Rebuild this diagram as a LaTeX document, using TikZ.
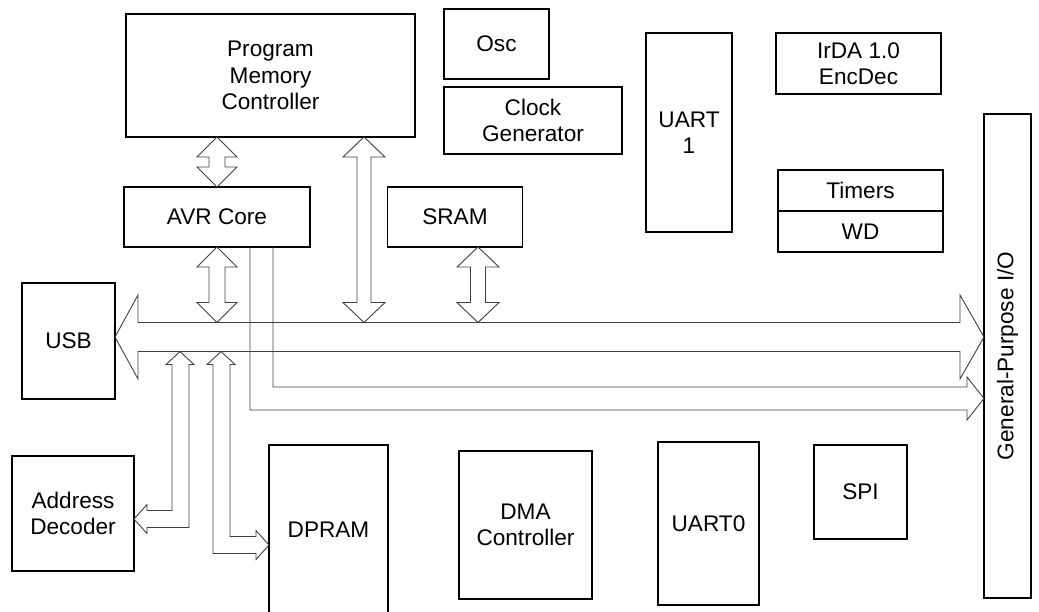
\documentclass[tikz,border=0pt]{standalone}
\usepackage{fontspec}
\setmainfont{Liberation Sans}
\usetikzlibrary{calc}
\newcommand{\dblvarrow}[4]{\draw[bus] #1 -- ($#1+(#4,20)$) -- ($#1+(#3,20)$) -- ($#2+(#3,-20)$) -- ($#2+(#4,-20)$) -- #2 -- ($#2+(-#4,-20)$) -- ($#2+(-#3,-20)$) -- ($#1+(-#3,20)$) -- ($#1+(-#4,20)$) -- cycle;}
\begin{document}
\begin{tikzpicture}[x=1pt,y=-1pt,
block/.style={shape=rectangle,draw=black,line width=1.6pt,align=center,inner sep=0pt,outer sep=0pt,font=\fontsize{22.6}{26.5}\selectfont},
bus/.style={draw=black!75,line width=0.9pt,line join=miter}]
\useasboundingbox (0,0) rectangle (1039,611);
\node[block,minimum width=289,minimum height=123] (pmc) at (270.5,75.5) {Program\\Memory\\Controller};
\node[block,minimum width=105,minimum height=70] (osc) at (496.5,44) {Osc};
\node[block,minimum width=178,minimum height=67] (clk) at (533,120.5) {Clock\\Generator};
\node[block,minimum width=86,minimum height=199] (uart1) at (689,132.5) {UART\\1};
\node[block,minimum width=165,minimum height=61] (irda) at (858.5,63.5) {IrDA 1.0\\EncDec};
\node[block,minimum width=165,minimum height=41] (timers) at (860.5,190.5) {Timers};
\node[block,minimum width=165,minimum height=41] (wd) at (860.5,231.5) {WD};
\node[block,minimum width=47,minimum height=484] (gpio) at (1007.5,356) {\rotatebox{90}{General-Purpose I/O}};
\node[block,minimum width=186,minimum height=60] (core) at (217,217) {AVR Core};
\node[block,minimum width=135,minimum height=60] (sram) at (455,217) {SRAM};
\node[block,minimum width=93,minimum height=116] (usb) at (68.5,341) {USB};
\node[block,minimum width=122,minimum height=115] (addr) at (73,513.5) {Address\\Decoder};
\node[block,minimum width=119,minimum height=170] (dpram) at (328.5,530) {DPRAM};
\node[block,minimum width=133,minimum height=148] (dma) at (525.5,525) {DMA\\Controller};
\node[block,minimum width=101,minimum height=163] (uart0) at (708.5,523.5) {UART0};
\node[block,minimum width=93,minimum height=94] (spi) at (860.5,492) {SPI};

\coordinate (busy) at (0,337);
\coordinate (busl) at (usb.east |- busy);
\coordinate (busr) at (gpio.west |- busy);
\coordinate (pb) at (364,322.5);
\coordinate (sb) at (478,322.5);
\coordinate (ta) at (180,351.5);
\coordinate (tb) at (221,351.5);
\coordinate (cy) at (0,398.5);

\draw[bus] (busl) -- ++(23,-42) -- ++(0,27.5) -- ($(busr)+(-24,-14.5)$) -- ++(0,-27.5) -- (busr) -- ++(-24,42) -- ++(0,-27.5) -- ($(busl)+(23,14.5)$) -- ++(0,27.5) -- cycle;
\dblvarrow{(pmc.south -| core.north)}{(core.north)}{8}{20}
\dblvarrow{(core.south)}{(core.south |- pb)}{8}{20}
\dblvarrow{(pmc.south -| pb)}{(pb)}{7}{21}
\dblvarrow{(sram.south -| sb)}{(sb)}{7.5}{21}
\draw[bus] ($(core.south)+(33,0)$) |- ($(gpio.west |- cy)+(-17,11.5)$) -- ++(0,10) -- (gpio.west |- cy) -- ++(-17,-21.5) -- ++(0,10) -| ($(core.south)+(56,0)$);
\draw[bus] (ta) -- ++(14,13) -- ++(-5,0) -- ++(0,163) -- ++(-42,0) -- ++(0,6) -- ++(-13,-14.5) -- ++(13,-14.5) -- ++(0,6) -- ++(25,0) -- ++(0,-146) -- ++(-6,0) -- cycle;
\draw[bus] (tb) -- ++(14,13) -- ++(-5,0) -- ++(0,172) -- ++(26,0) -- ++(0,-6) -- ++(13,14.5) -- ++(-13,14.5) -- ++(0,-6) -- ++(-43,0) -- ++(0,-189) -- ++(-6,0) -- cycle;
\end{tikzpicture}
\end{document}
